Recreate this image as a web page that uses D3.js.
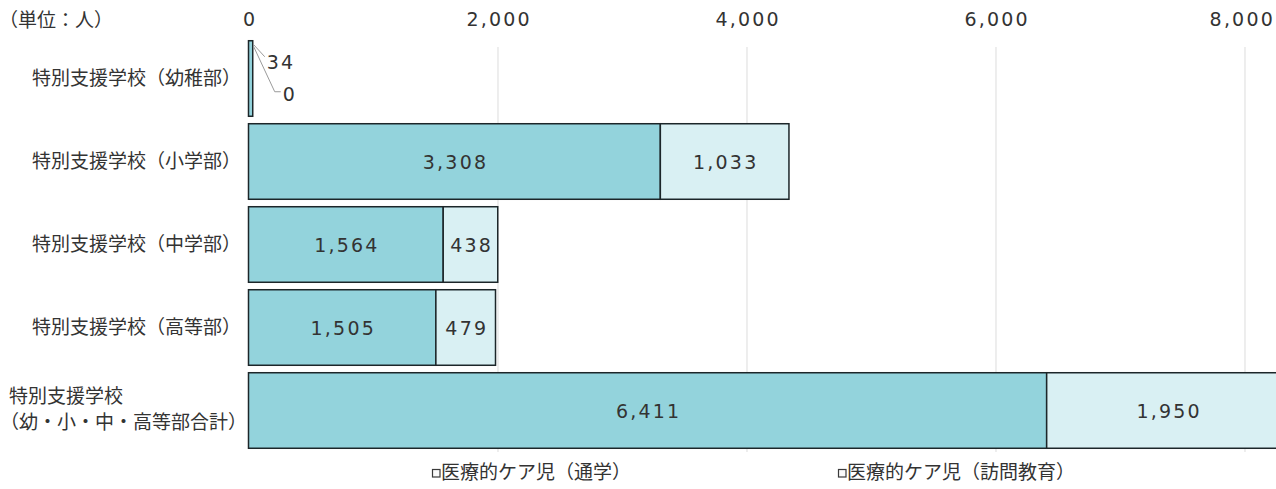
<!DOCTYPE html>
<html lang="ja">
<head>
<meta charset="utf-8">
<script src="https://cdn.jsdelivr.net/npm/d3@7"></script>
<style>
  html, body { margin: 0; padding: 0; background: #fff; }
  svg { display: block; }
  .jp { font-family: "Noto Sans CJK JP", "Noto Sans", sans-serif; fill: #333; }
  .num { font-family: "DejaVu Sans", Verdana, sans-serif; fill: #333; letter-spacing: 2.2px; }
</style>
</head>
<body>
<svg id="chart" width="1276" height="489"></svg>
<script>
// 特別支援学校における医療的ケア児の人数
const categories = [
  "特別支援学校（幼稚部）",
  "特別支援学校（小学部）",
  "特別支援学校（中学部）",
  "特別支援学校（高等部）",
  "特別支援学校\n（幼・小・中・高等部合計）"
];
const seriesNames = ["医療的ケア児（通学）", "医療的ケア児（訪問教育）"];
const commuting = [34, 3308, 1564, 1505, 6411];
const homeVisit = [0, 1033, 438, 479, 1950];
const tickValues = [0, 2000, 4000, 6000, 8000];
const unitLabel = "（単位：人）";

const colors = ["#93d3dc", "#d9f0f3"];

const W = 1276;
const svg = d3.select("#chart");

const x = d3.scaleLinear().domain([0, 8000]).range([248.5, 1244.5]);
const y = d3.scaleBand().domain(d3.range(categories.length))
  .range([37, 452]).paddingInner(0.09).paddingOuter(0.045);

// vertical gridlines
svg.append("g")
  .attr("transform", "translate(0,47)")
  .call(d3.axisBottom(x).tickValues(tickValues.slice(1)).tickSize(405).tickFormat(""))
  .call(g => g.select(".domain").remove())
  .call(g => g.selectAll("line").attr("stroke", "#e2e2e2").attr("stroke-width", 1.2));

// top value axis
svg.append("g")
  .attr("transform", "translate(0,26)")
  .call(d3.axisTop(x).tickValues(tickValues).tickSize(0).tickPadding(0).tickFormat(d3.format(",")))
  .call(g => g.select(".domain").remove())
  .call(g => g.selectAll("text")
    .attr("class", "num")
    .attr("font-size", 19)
    .attr("dy", 0)
    .attr("dx", 1.1))
  // keep the last tick label inside the drawing area
  .call(g => g.selectAll(".tick").each(function () {
    const t = d3.select(this).select("text");
    const b = this.getBBox();
    const m = this.getCTM();
    const right = m.e + b.x + b.width;
    if (right > W - 1) t.attr("dx", 1.1 - (right - (W - 1)));
  }));

// unit label
svg.append("text").attr("class", "jp")
  .attr("x", -1).attr("y", 22).attr("dominant-baseline", "middle")
  .attr("font-size", 19).text(unitLabel);

// stacked bars
const rows = categories.map((c, i) => ({ i, a: commuting[i], b: homeVisit[i] }));
const barG = svg.append("g");

rows.forEach(r => {
  const y0 = y(r.i), bh = y.bandwidth();
  barG.append("rect")
    .attr("x", x(0)).attr("y", y0)
    .attr("width", x(r.a) - x(0)).attr("height", bh)
    .attr("fill", colors[0]).attr("stroke", "#1c2629").attr("stroke-width", 1.5);
  if (r.b > 0) {
    barG.append("rect")
      .attr("x", x(r.a)).attr("y", y0)
      .attr("width", x(r.a + r.b) - x(r.a)).attr("height", bh)
      .attr("fill", colors[1]).attr("stroke", "#1c2629").attr("stroke-width", 1.5);
  }
});

// value labels inside bars (wide enough segments)
const labelG = svg.append("g");
rows.forEach(r => {
  const cy = y(r.i) + y.bandwidth() / 2;
  if (x(r.a) - x(0) > 40) {
    labelG.append("text").attr("class", "num")
      .attr("x", (x(0) + x(r.a)) / 2 + 1.1).attr("y", cy)
      .attr("text-anchor", "middle").attr("dominant-baseline", "central")
      .attr("font-size", 19).text(d3.format(",")(r.a));
  }
  if (x(r.a + r.b) - x(r.a) > 40) {
    labelG.append("text").attr("class", "num")
      .attr("x", (x(r.a) + x(r.a + r.b)) / 2 + 1.1).attr("y", cy)
      .attr("text-anchor", "middle").attr("dominant-baseline", "central")
      .attr("font-size", 19).text(d3.format(",")(r.b));
  }
});

// small segments: labels pulled out with leader lines
const small = rows.filter(r => x(r.a + r.b) - x(0) < 40);
small.forEach(r => {
  const top = y(r.i);
  const xa = x(r.a), xb = x(r.a + r.b);
  // commuting value
  labelG.append("path")
    .attr("d", `M${xa + 1},${top + 4} L${xa + 12},${top + 16}`)
    .attr("fill", "none").attr("stroke", "#9a9a9a").attr("stroke-width", 1);
  labelG.append("text").attr("class", "num")
    .attr("x", xa + 14).attr("y", top + 21)
    .attr("dominant-baseline", "central").attr("font-size", 19)
    .text(d3.format(",")(r.a));
  // home-visit value
  labelG.append("path")
    .attr("d", `M${xb + 1},${top + 6} L${xb + 22},${top + 51} L${xb + 28},${top + 51}`)
    .attr("fill", "none").attr("stroke", "#9a9a9a").attr("stroke-width", 1);
  labelG.append("text").attr("class", "num")
    .attr("x", xb + 30).attr("y", top + 53)
    .attr("dominant-baseline", "central").attr("font-size", 19)
    .text(d3.format(",")(r.b));
});

// category labels
const catG = svg.append("g");
categories.forEach((c, i) => {
  const cy = y(i) + y.bandwidth() / 2;
  const lines = c.split("\n");
  if (lines.length === 1) {
    catG.append("text").attr("class", "jp")
      .attr("x", 241).attr("y", cy + 1)
      .attr("text-anchor", "end").attr("dominant-baseline", "middle")
      .attr("font-size", 19).text(c);
  } else {
    lines.forEach((ln, k) => {
      catG.append("text").attr("class", "jp")
        .attr("x", k === 0 ? 9 : 0).attr("y", cy - 13 + k * 26)
        .attr("dominant-baseline", "middle")
        .attr("font-size", 19).text(ln);
    });
  }
});

// legend
const legendX = [432, 838];
seriesNames.forEach((name, i) => {
  const g = svg.append("g").attr("transform", `translate(${legendX[i]},474)`);
  g.append("rect").attr("x", 0.5).attr("y", -4.5).attr("width", 7.5).attr("height", 7.5)
    .attr("fill", "#fafafa").attr("stroke", "#3a3a3a").attr("stroke-width", 1.2);
  g.append("text").attr("class", "jp")
    .attr("x", 9).attr("y", 0)
    .attr("dominant-baseline", "middle").attr("font-size", 19).text(name);
});
</script>
</body>
</html>
